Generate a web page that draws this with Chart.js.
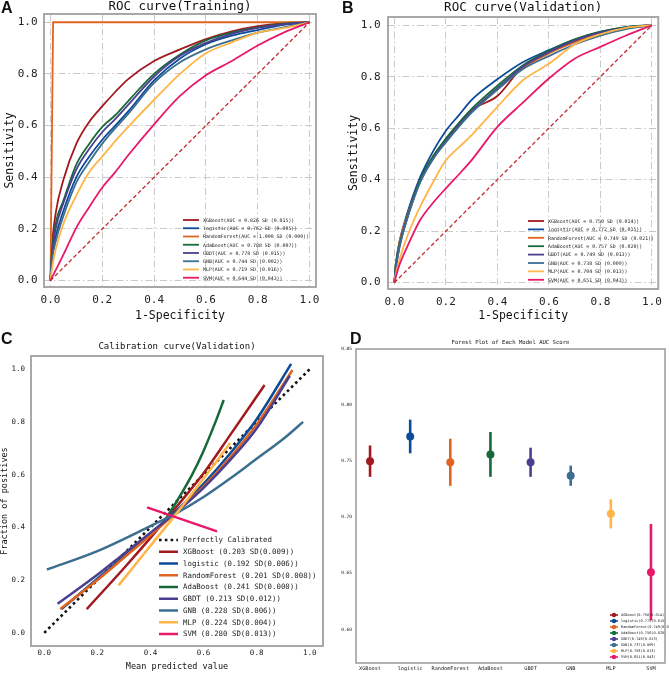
<!DOCTYPE html>
<html>
<head>
<meta charset="utf-8">
<script src="https://cdn.jsdelivr.net/npm/chart.js@4.4.1/dist/chart.umd.min.js"></script>
<style>
  body { margin: 0; background: #fff; width: 669px; height: 673px; position: relative; overflow: hidden; }
  canvas { position: absolute; }
  .tag { position: absolute; font: bold 16px "Liberation Sans", Arial, sans-serif; color: #111; line-height: 16px; }
</style>
</head>
<body>
<canvas id="rocTrain" width="334" height="324" style="left:0;top:0"></canvas>
<canvas id="rocValid" width="335" height="324" style="left:334px;top:0"></canvas>
<canvas id="calib" width="334" height="351" style="left:0;top:322px"></canvas>
<canvas id="forest" width="335" height="351" style="left:334px;top:322px"></canvas>
<div class="tag" style="left:1px;top:0px">A</div>
<div class="tag" style="left:342px;top:0px">B</div>
<div class="tag" style="left:1px;top:331px">C</div>
<div class="tag" style="left:350px;top:331px">D</div>
<script>
// ---- data ----
const models = ['XGBoost', 'logistic', 'RandomForest', 'AdaBoost', 'GBDT', 'GNB', 'MLP', 'SVM'];

const trainAuc = [0.826, 0.762, 1.000, 0.788, 0.778, 0.744, 0.719, 0.644];
const trainSd  = [0.015, 0.005, 0.000, 0.007, 0.015, 0.002, 0.016, 0.043];
const validAuc = [0.750, 0.772, 0.749, 0.757, 0.749, 0.738, 0.704, 0.651];
const validSd  = [0.014, 0.015, 0.021, 0.020, 0.013, 0.009, 0.013, 0.043];

// ROC curves: shared false positive rate grid, one TPR list per model
const rocFpr = [0, 0.005, 0.02, 0.05, 0.1, 0.15, 0.2, 0.25, 0.3, 0.4, 0.5, 0.6, 0.7, 0.8, 0.9, 1];
const trainTprXGBoost  = [0, 0.12, 0.26, 0.39, 0.53, 0.615, 0.675, 0.73, 0.78, 0.85, 0.895, 0.935, 0.965, 0.985, 0.997, 1];
const trainTprLogistic = [0, 0.08, 0.17, 0.27, 0.40, 0.48, 0.545, 0.60, 0.655, 0.775, 0.86, 0.915, 0.948, 0.97, 0.99, 1];
const trainTprAdaBoost = [0, 0.10, 0.22, 0.31, 0.45, 0.53, 0.595, 0.64, 0.695, 0.80, 0.875, 0.93, 0.96, 0.98, 0.995, 1];
const trainTprGBDT     = [0, 0.09, 0.20, 0.30, 0.43, 0.51, 0.575, 0.625, 0.68, 0.79, 0.87, 0.92, 0.955, 0.978, 0.993, 1];
const trainTprGNB      = [0, 0.07, 0.15, 0.25, 0.38, 0.46, 0.53, 0.59, 0.645, 0.765, 0.845, 0.895, 0.93, 0.96, 0.98, 1];
const trainTprMLP      = [0, 0.04, 0.12, 0.22, 0.33, 0.42, 0.48, 0.54, 0.595, 0.70, 0.80, 0.88, 0.922, 0.96, 0.977, 1];
const trainTprSVM      = [0, 0.01, 0.04, 0.10, 0.205, 0.285, 0.36, 0.42, 0.485, 0.605, 0.715, 0.795, 0.85, 0.91, 0.96, 1];
// RandomForest fits the training set perfectly
const trainFprRandomForest = [0, 0.01, 1];
const trainTprRandomForest = [0, 1, 1];

const validTprXGBoost      = [0, 0.06, 0.15, 0.26, 0.40, 0.49, 0.555, 0.615, 0.67, 0.725, 0.84, 0.895, 0.935, 0.97, 0.99, 1];
const validTprLogistic     = [0, 0.07, 0.16, 0.27, 0.41, 0.51, 0.59, 0.65, 0.71, 0.79, 0.857, 0.903, 0.944, 0.974, 0.993, 1];
const validTprRandomForest = [0, 0.06, 0.16, 0.26, 0.395, 0.485, 0.55, 0.61, 0.665, 0.75, 0.835, 0.89, 0.935, 0.97, 0.99, 1];
const validTprAdaBoost     = [0, 0.06, 0.15, 0.255, 0.40, 0.49, 0.56, 0.62, 0.675, 0.765, 0.845, 0.90, 0.945, 0.975, 0.993, 1];
const validTprGBDT         = [0, 0.05, 0.14, 0.25, 0.39, 0.48, 0.55, 0.61, 0.665, 0.755, 0.84, 0.895, 0.94, 0.972, 0.99, 1];
const validTprGNB          = [0, 0.05, 0.14, 0.25, 0.39, 0.48, 0.545, 0.605, 0.66, 0.75, 0.83, 0.88, 0.925, 0.96, 0.985, 1];
const validTprMLP          = [0, 0.03, 0.09, 0.18, 0.295, 0.39, 0.475, 0.525, 0.573, 0.683, 0.787, 0.85, 0.925, 0.965, 0.99, 1];
const validTprSVM          = [0, 0.02, 0.07, 0.14, 0.243, 0.31, 0.366, 0.42, 0.476, 0.605, 0.70, 0.793, 0.87, 0.916, 0.96, 1];

// calibration curves (mean predicted value -> fraction of positives)
const calBrier = [0.203, 0.192, 0.201, 0.241, 0.213, 0.228, 0.224, 0.280];
const calBrierSd = [0.009, 0.006, 0.008, 0.000, 0.012, 0.006, 0.004, 0.013];
const calXXGBoost = [0.16, 0.3, 0.4, 0.5, 0.6, 0.7, 0.83];
const calYXGBoost = [0.09, 0.245, 0.36, 0.48, 0.605, 0.75, 0.94];
const calXLogistic = [0.065, 0.2, 0.3, 0.4, 0.5, 0.6, 0.7, 0.8, 0.93];
const calYLogistic = [0.09, 0.205, 0.29, 0.375, 0.465, 0.565, 0.68, 0.81, 1.02];
const calXRandomForest = [0.06, 0.2, 0.3, 0.4, 0.5, 0.6, 0.7, 0.8, 0.935];
const calYRandomForest = [0.09, 0.2, 0.285, 0.37, 0.46, 0.555, 0.665, 0.79, 0.997];
const calXAdaBoost = [0.45, 0.5, 0.557, 0.6, 0.645, 0.676];
const calYAdaBoost = [0.42, 0.5, 0.6, 0.69, 0.8, 0.883];
const calXGBDT = [0.05, 0.2, 0.3, 0.4, 0.5, 0.6, 0.7, 0.8, 0.925];
const calYGBDT = [0.11, 0.22, 0.3, 0.38, 0.46, 0.55, 0.655, 0.775, 0.975];
const calXGNB = [0.01, 0.2, 0.4, 0.5, 0.6, 0.7, 0.8, 0.9, 0.975];
const calYGNB = [0.24, 0.31, 0.405, 0.455, 0.515, 0.585, 0.66, 0.735, 0.80];
const calXMLP = [0.28, 0.4, 0.5, 0.6, 0.7];
const calYMLP = [0.18, 0.33, 0.455, 0.585, 0.72];
const calXSVM = [0.387, 0.651];
const calYSVM = [0.476, 0.385];
const calXPerfect = [0, 1];
const calYPerfect = [0, 1];

// forest plot of validation AUC (mean and SD)
const forestAuc = [0.750, 0.772, 0.749, 0.756, 0.749, 0.737, 0.703, 0.651];
const forestSd  = [0.014, 0.015, 0.021, 0.020, 0.013, 0.009, 0.013, 0.043];

const unitTicks = [0, 0.2, 0.4, 0.6, 0.8, 1.0];
const forestTicks = [0.60, 0.65, 0.70, 0.75, 0.80, 0.85];

// ---- styles ----
const colors = ['#A21A1F', '#0B4C9A', '#E0641E', '#17693A', '#4B3F91', '#3B6E8F', '#FFB547', '#E8196B'];
const mono = '"DejaVu Sans Mono", "Liberation Mono", monospace';
Chart.defaults.font.family = mono;
Chart.defaults.color = '#222';
Chart.defaults.animation = false;

const pts = (xs, ys) => xs.map((x, i) => ({ x: x, y: ys[i] }));
const setTicks = vals => scale => { scale.ticks = vals.map(v => ({ value: v })); };

// frame, title and hand-placed legend (matplotlib style)
function decor(cfg) {
  return {
    id: 'decor',
    afterDatasetsDraw(chart) {
      const { ctx, chartArea: a } = chart;
      ctx.save();
      if (cfg.legend) {
        const L = cfg.legend;
        ctx.font = L.font;
        ctx.textBaseline = 'middle';
        L.items.forEach((it, i) => {
          const y = L.y + i * L.rowH;
          ctx.strokeStyle = it.color;
          ctx.lineWidth = it.width;
          ctx.setLineDash(it.dash || []);
          ctx.beginPath();
          ctx.moveTo(L.x, y);
          ctx.lineTo(L.x + L.lineLen, y);
          ctx.stroke();
          if (it.marker) {
            ctx.fillStyle = it.color;
            ctx.beginPath();
            ctx.arc(L.x + L.lineLen / 2, y, it.marker, 0, Math.PI * 2);
            ctx.fill();
          }
          ctx.fillStyle = '#222';
          ctx.fillText(it.label, L.x + L.lineLen + L.gap, y + 0.5);
        });
      }
      ctx.setLineDash([]);
      ctx.strokeStyle = cfg.frameColor;
      ctx.lineWidth = cfg.frameWidth;
      ctx.strokeRect(a.left, a.top, a.right - a.left, a.bottom - a.top);
      ctx.font = cfg.titleFont;
      ctx.fillStyle = '#111';
      ctx.textAlign = 'center';
      ctx.textBaseline = 'middle';
      ctx.fillText(cfg.title, (a.left + a.right) / 2, a.top - cfg.titleDy);
      ctx.restore();
    }
  };
}

function rocChart(id, fprLists, tprLists, aucs, sds, title, layout) {
  const datasets = models.map((m, i) => ({
    label: m,
    data: pts(fprLists[i], tprLists[i]),
    borderColor: colors[i],
    borderWidth: 1.8,
    pointRadius: 0,
    showLine: true,
    cubicInterpolationMode: m === 'RandomForest' && fprLists[i].length < 4 ? 'default' : 'monotone',
    order: 8 - i
  }));
  datasets.push({
    label: 'chance',
    data: pts([0, 1], [0, 1]),
    borderColor: '#C0282D',
    borderWidth: 1.3,
    borderDash: [4, 2.5],
    pointRadius: 0,
    showLine: true,
    order: 0
  });
  const axisCommon = {
    type: 'linear',
    grid: { color: '#c9c9c9', lineWidth: 1, drawTicks: false },
    border: { display: false, dash: [7, 3, 1.5, 3] },
    ticks: { font: { size: 11 }, color: '#222', callback: v => v.toFixed(1) },
    afterBuildTicks: setTicks(unitTicks)
  };
  new Chart(document.getElementById(id), {
    type: 'scatter',
    data: { datasets: datasets },
    options: {
      responsive: false,
      events: [],
      layout: { padding: layout.padding },
      plugins: { legend: { display: false }, tooltip: { enabled: false } },
      scales: {
        x: Object.assign({}, axisCommon, {
          min: -0.025, max: 1.025,
          ticks: Object.assign({}, axisCommon.ticks, { padding: layout.xTickPad }),
          title: { display: true, text: '1-Specificity', font: { size: 11.5, lineHeight: 1 }, padding: { top: 0, bottom: 2.5 }, color: '#111' },
          afterFit: s => { s.height = layout.xH; }
        }),
        y: Object.assign({}, axisCommon, {
          min: -0.025, max: 1.032,
          ticks: Object.assign({}, axisCommon.ticks, { padding: layout.yTickPad }),
          title: { display: true, text: 'Sensitivity', font: { size: 11.5, lineHeight: 1 }, padding: 0, color: '#111' },
          afterFit: s => { s.width = layout.yW; }
        })
      }
    },
    plugins: [decor({
      title: title, titleFont: '12.5px ' + mono, titleDy: layout.titleDy,
      frameColor: '#a8a8a8', frameWidth: 2,
      legend: {
        x: layout.legX, y: layout.legY, rowH: layout.legRow, lineLen: 16, gap: 4, font: '4.9px ' + mono,
        items: models.map((m, i) => ({
          label: m + '(AUC = ' + aucs[i].toFixed(3) + ' SD (' + sds[i].toFixed(3) + '))',
          color: colors[i], width: 1.8
        }))
      }
    })]
  });
}

const trainFpr = models.map(m => m === 'RandomForest' ? trainFprRandomForest : rocFpr);
rocChart('rocTrain', trainFpr,
  [trainTprXGBoost, trainTprLogistic, trainTprRandomForest, trainTprAdaBoost, trainTprGBDT, trainTprGNB, trainTprMLP, trainTprSVM],
  trainAuc, trainSd, 'ROC curve(Training)',
  { padding: { left: 4, top: 14, right: 18, bottom: 0 }, xH: 37, yW: 40, xTickPad: 6.5, yTickPad: 6.5,
    titleDy: 7, legX: 183, legY: 220, legRow: 8.25 });

rocChart('rocValid', models.map(() => rocFpr),
  [validTprXGBoost, validTprLogistic, validTprRandomForest, validTprAdaBoost, validTprGBDT, validTprGNB, validTprMLP, validTprSVM],
  validAuc, validSd, 'ROC curve(Validation)',
  { padding: { left: 14, top: 17, right: 10, bottom: 0 }, xH: 35, yW: 40, xTickPad: 7, yTickPad: 7.5,
    titleDy: 9, legX: 194, legY: 221, legRow: 8.4 });

// ---- calibration ----
(function () {
  const xs = [calXXGBoost, calXLogistic, calXRandomForest, calXAdaBoost, calXGBDT, calXGNB, calXMLP, calXSVM];
  const ys = [calYXGBoost, calYLogistic, calYRandomForest, calYAdaBoost, calYGBDT, calYGNB, calYMLP, calYSVM];
  const datasets = models.map((m, i) => ({
    label: m,
    data: pts(xs[i], ys[i]),
    borderColor: colors[i],
    borderWidth: 2.5,
    pointRadius: 0,
    showLine: true,
    cubicInterpolationMode: 'monotone',
    order: 8 - i
  }));
  datasets.push({
    label: 'Perfectly Calibrated',
    data: pts(calXPerfect, calYPerfect),
    borderColor: '#111',
    borderWidth: 2.6,
    borderDash: [2.6, 3.2],
    pointRadius: 0,
    showLine: true,
    order: 9
  });
  const items = [{ label: 'Perfectly Calibrated', color: '#111', width: 2.6, dash: [2.6, 3.2] }].concat(
    models.map((m, i) => ({
      label: m + ' (' + calBrier[i].toFixed(3) + ' SD(' + calBrierSd[i].toFixed(3) + '))',
      color: colors[i], width: 2.5
    })));
  new Chart(document.getElementById('calib'), {
    type: 'scatter',
    data: { datasets: datasets },
    options: {
      responsive: false,
      events: [],
      layout: { padding: { left: 0, top: 34, right: 11, bottom: 0 } },
      plugins: { legend: { display: false }, tooltip: { enabled: false } },
      scales: {
        x: {
          type: 'linear', min: -0.05, max: 1.05,
          grid: { display: false, drawTicks: false }, border: { display: false },
          ticks: { font: { size: 7.5 }, padding: 3, callback: v => v.toFixed(1) },
          afterBuildTicks: setTicks(unitTicks),
          title: { display: true, text: 'Mean predicted value', font: { size: 8.5, lineHeight: 1 }, padding: { top: 0, bottom: 1.8 }, color: '#111' },
          afterFit: s => { s.height = 27; }
        },
        y: {
          type: 'linear', min: -0.05, max: 1.05,
          grid: { display: false, drawTicks: false }, border: { display: false },
          ticks: { font: { size: 7.5 }, padding: 6, callback: v => v.toFixed(1) },
          afterBuildTicks: setTicks(unitTicks),
          title: { display: true, text: 'Fraction of positives', font: { size: 8.5, lineHeight: 1 }, padding: 1, color: '#111' },
          afterFit: s => { s.width = 31; }
        }
      }
    },
    plugins: [decor({
      title: 'Calibration curve(Validation)', titleFont: '9px ' + mono, titleDy: 9,
      frameColor: '#a8a8a8', frameWidth: 2,
      legend: { x: 159, y: 218, rowH: 11.75, lineLen: 19, gap: 5, font: '7.4px ' + mono, items: items }
    })]
  });
})();

// ---- forest plot ----
(function () {
  const datasets = [];
  models.forEach((m, i) => {
    datasets.push({
      label: m,
      data: [{ x: i, y: forestAuc[i] }],
      backgroundColor: colors[i],
      borderWidth: 0,
      pointRadius: 4,
      order: 0
    });
    datasets.push({
      label: m + ' sd',
      data: [{ x: i, y: forestAuc[i] - forestSd[i] }, { x: i, y: forestAuc[i] + forestSd[i] }],
      borderColor: colors[i],
      borderWidth: 2.6,
      pointRadius: 0,
      showLine: true,
      order: 1
    });
  });
  new Chart(document.getElementById('forest'), {
    type: 'scatter',
    data: { datasets: datasets },
    options: {
      responsive: false,
      events: [],
      layout: { padding: { left: 0, top: 27, right: 2, bottom: 0 } },
      plugins: { legend: { display: false }, tooltip: { enabled: false } },
      scales: {
        x: {
          type: 'linear', min: -0.35, max: 7.35,
          grid: { display: false, drawTicks: false }, border: { display: false },
          ticks: { font: { size: 5.2 }, padding: 3, maxRotation: 0, minRotation: 0, autoSkip: false, callback: v => models[v] },
          afterBuildTicks: setTicks(models.map((m, i) => i)),
          afterFit: s => { s.height = 10; }
        },
        y: {
          type: 'linear', min: 0.57, max: 0.85,
          grid: { display: false, drawTicks: false }, border: { display: false },
          ticks: { font: { size: 4.5 }, padding: 4, callback: v => v.toFixed(2) },
          afterBuildTicks: setTicks(forestTicks),
          afterFit: s => { s.width = 22; }
        }
      }
    },
    plugins: [decor({
      title: 'Forest Plot of Each Model AUC Score', titleFont: '5.6px ' + mono, titleDy: 6,
      frameColor: '#a0a0a0', frameWidth: 1.6,
      legend: {
        x: 276, y: 293, rowH: 6, lineLen: 8, gap: 3, font: '3.6px ' + mono,
        items: models.map((m, i) => ({
          label: m + '(' + forestAuc[i].toFixed(3) + '(' + forestSd[i].toFixed(3) + ')',
          color: colors[i], width: 1.6, marker: 2.2
        }))
      }
    })]
  });
})();
</script>
</body>
</html>
